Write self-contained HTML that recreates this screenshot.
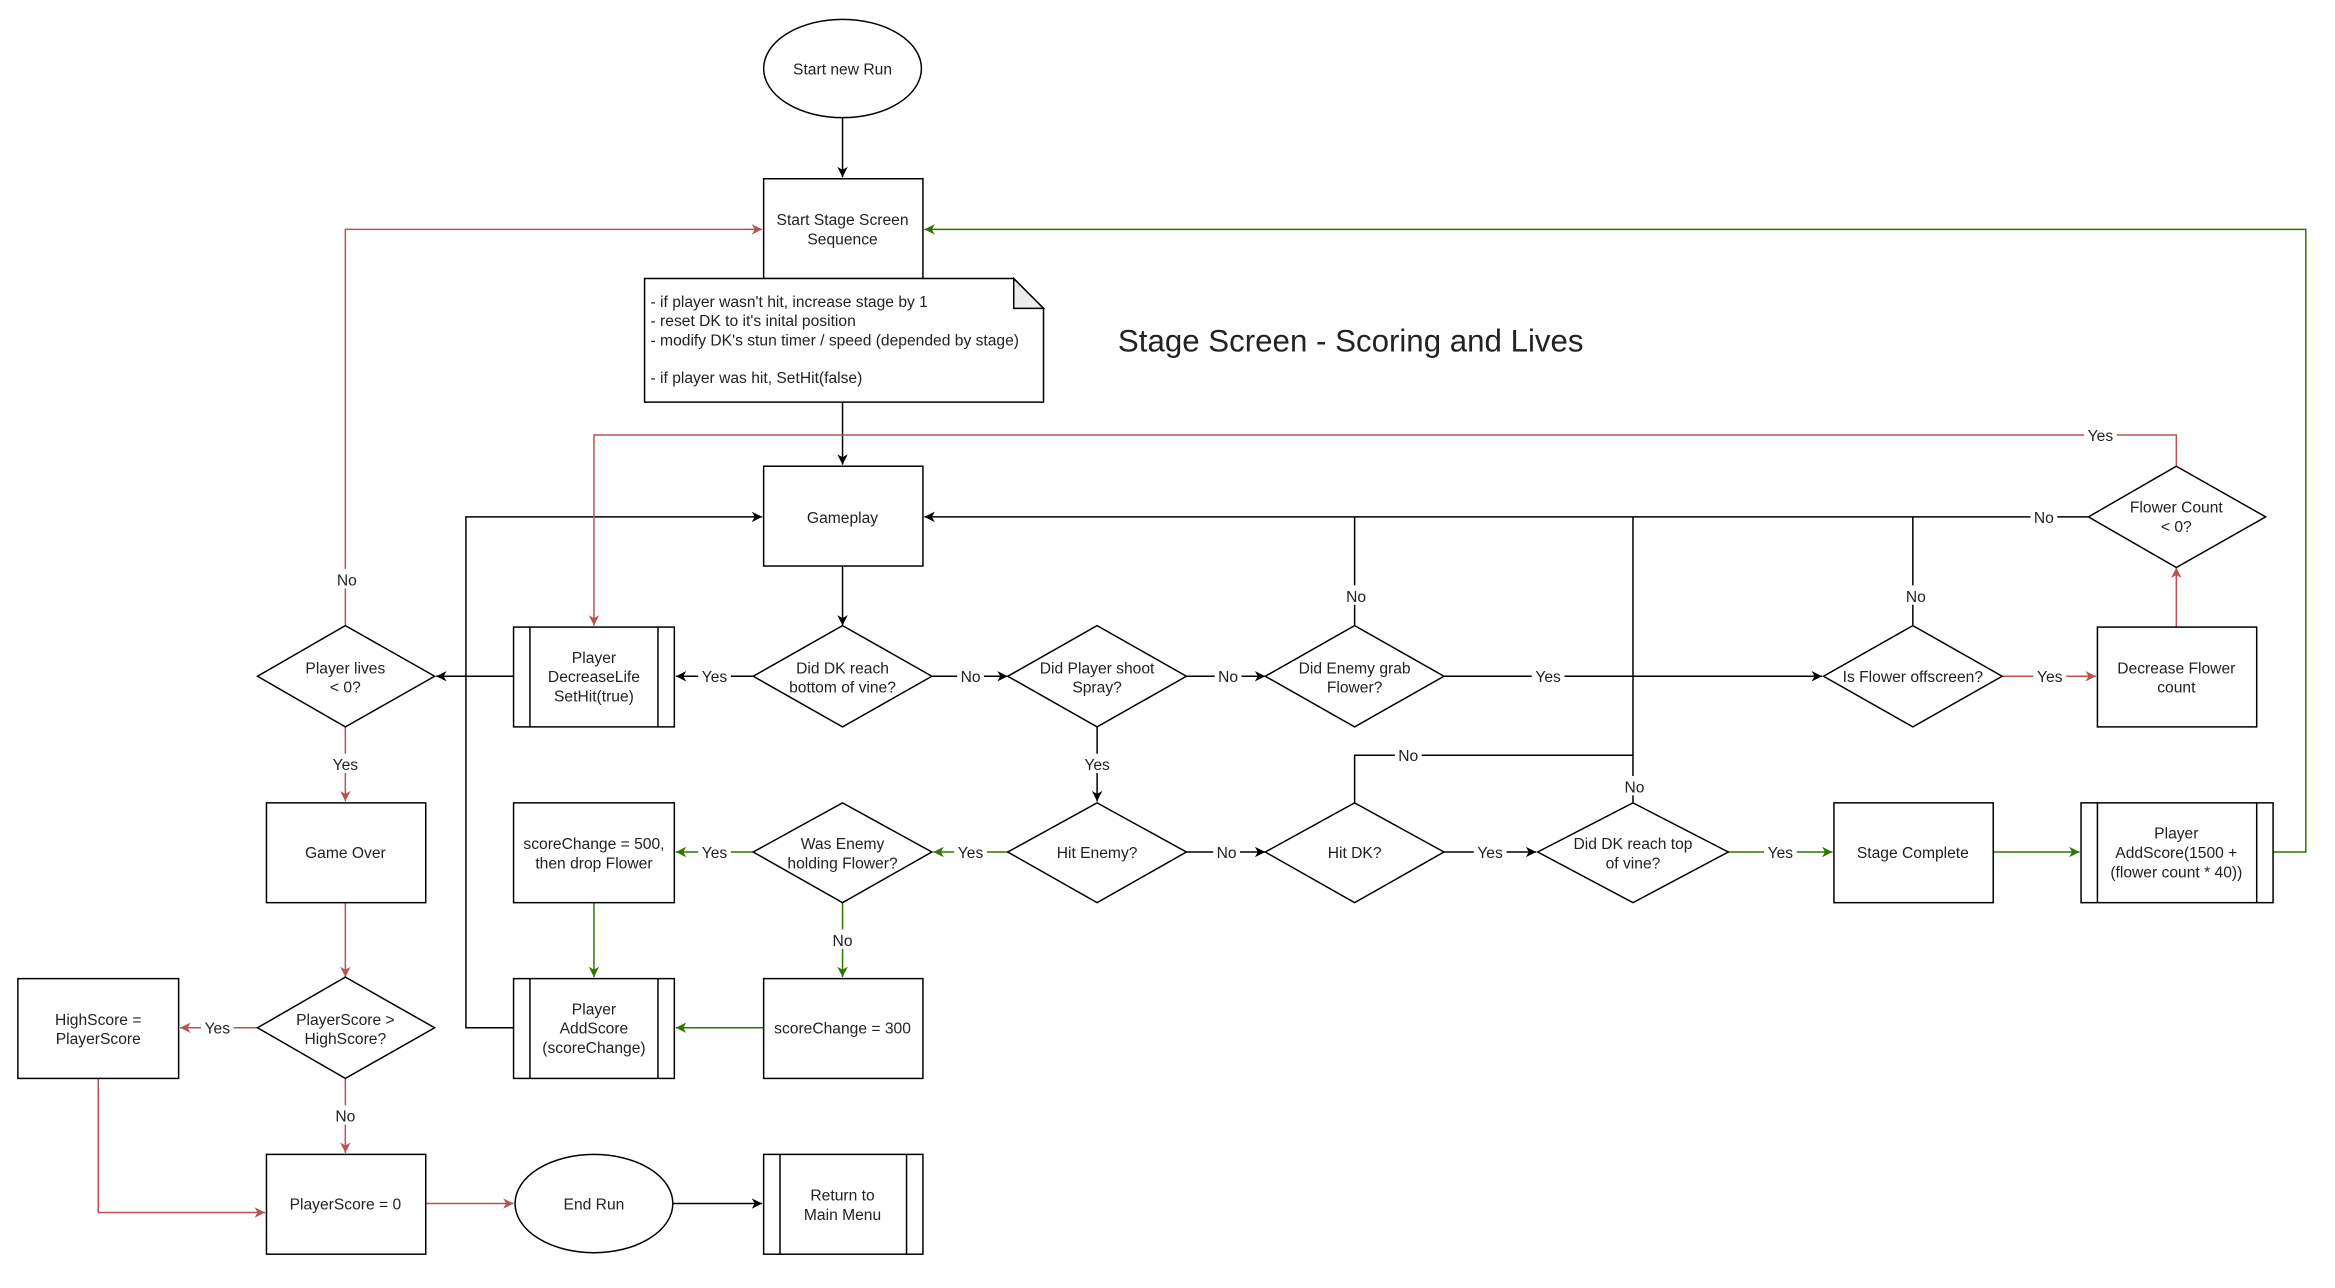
<!DOCTYPE html>
<html><head><meta charset="utf-8"><style>
html,body{margin:0;padding:0;background:#fff;}
svg{display:block;}
text{font-family:"Liberation Sans",sans-serif;font-size:10.5px;fill:#222;}
.b{fill:#fff;stroke:#000;stroke-width:1;}
.k{stroke:#000;fill:none;stroke-width:1;}
.r{stroke:#b85450;fill:none;stroke-width:1;}
.g{stroke:#2d7600;fill:none;stroke-width:1;}
.lb{fill:#fff;}
</style></head><body>
<svg width="2335" height="1288" viewBox="0 0 1568.6 864.7" preserveAspectRatio="none" xmlns="http://www.w3.org/2000/svg">
<defs>
<marker id="ak" markerWidth="8" markerHeight="8" refX="7" refY="4" orient="auto" markerUnits="userSpaceOnUse"><path d="M0,0.5 L7,4 L0,7.5 L2,4 z" fill="#000"/></marker>
<marker id="ar" markerWidth="8" markerHeight="8" refX="7" refY="4" orient="auto" markerUnits="userSpaceOnUse"><path d="M0,0.5 L7,4 L0,7.5 L2,4 z" fill="#b85450"/></marker>
<marker id="ag" markerWidth="8" markerHeight="8" refX="7" refY="4" orient="auto" markerUnits="userSpaceOnUse"><path d="M0,0.5 L7,4 L0,7.5 L2,4 z" fill="#2d7600"/></marker>
</defs>

<path class="k" d="M566,79 V119" marker-end="url(#ak)"/>
<path class="k" d="M566,270 V312" marker-end="url(#ak)"/>
<path class="k" d="M566,380 V420" marker-end="url(#ak)"/>
<path class="k" d="M506,454 H454" marker-end="url(#ak)"/>
<path class="k" d="M626,454 H677" marker-end="url(#ak)"/>
<path class="k" d="M797,454 H850" marker-end="url(#ak)"/>
<path class="k" d="M1403,347 H621" marker-end="url(#ak)"/>
<path class="k" d="M910,420 V347"/>
<path class="k" d="M1285,420 V347"/>
<path class="k" d="M345,454 H293" marker-end="url(#ak)"/>
<path class="k" d="M345,690 H313 V347 H512" marker-end="url(#ak)"/>
<path class="k" d="M737,488 V538" marker-end="url(#ak)"/>
<path class="k" d="M797,572 H850" marker-end="url(#ak)"/>
<path class="k" d="M910,539 V507 H1097"/>
<path class="k" d="M1097,539 V347"/>
<path class="k" d="M970,572 H1032" marker-end="url(#ak)"/>
<path class="k" d="M452,808 H512" marker-end="url(#ak)"/>
<path class="k" d="M970,454 H1224" marker-end="url(#ak)"/>

<path class="r" d="M1345,454 H1408" marker-end="url(#ar)"/>
<path class="r" d="M1462,421 V381" marker-end="url(#ar)"/>
<path class="r" d="M1462,313 V292 H399 V420" marker-end="url(#ar)"/>
<path class="r" d="M232,420 V154 H512" marker-end="url(#ar)"/>
<path class="r" d="M232,488 V538" marker-end="url(#ar)"/>
<path class="r" d="M232,606 V656" marker-end="url(#ar)"/>
<path class="r" d="M173,690 H121" marker-end="url(#ar)"/>
<path class="r" d="M232,724 V774" marker-end="url(#ar)"/>
<path class="r" d="M66,724 V814 H178" marker-end="url(#ar)"/>
<path class="r" d="M286,808 H345" marker-end="url(#ar)"/>

<path class="g" d="M677,572 H627" marker-end="url(#ag)"/>
<path class="g" d="M506,572 H454" marker-end="url(#ag)"/>
<path class="g" d="M566,606 V656" marker-end="url(#ag)"/>
<path class="g" d="M399,606 V656" marker-end="url(#ag)"/>
<path class="g" d="M513,690 H454" marker-end="url(#ag)"/>
<path class="g" d="M1161,572 H1231" marker-end="url(#ag)"/>
<path class="g" d="M1339,572 H1397" marker-end="url(#ag)"/>
<path class="g" d="M1527,572 H1549 V154 H621" marker-end="url(#ag)"/>

<g text-anchor="middle">
<rect class="lb" x="469" y="447" width="22" height="13"/><text x="480" y="458">Yes</text>
<rect class="lb" x="643" y="447" width="18" height="13"/><text x="652" y="458">No</text>
<rect class="lb" x="816" y="447" width="18" height="13"/><text x="825" y="458">No</text>
<rect class="lb" x="901" y="393" width="18" height="13"/><text x="911" y="404">No</text>
<rect class="lb" x="1029" y="447" width="22" height="13"/><text x="1040" y="458">Yes</text>
<rect class="lb" x="1278" y="393" width="18" height="13"/><text x="1287" y="404">No</text>
<rect class="lb" x="1366" y="447" width="22" height="13"/><text x="1377" y="458">Yes</text>
<rect class="lb" x="1364" y="340" width="18" height="13"/><text x="1373" y="351">No</text>
<rect class="lb" x="1400" y="285" width="22" height="13"/><text x="1411" y="296">Yes</text>
<rect class="lb" x="224" y="382" width="18" height="13"/><text x="233" y="393">No</text>
<rect class="lb" x="221" y="506" width="22" height="13"/><text x="232" y="517">Yes</text>
<rect class="lb" x="135" y="683" width="22" height="13"/><text x="146" y="694">Yes</text>
<rect class="lb" x="223" y="742" width="18" height="13"/><text x="232" y="753">No</text>
<rect class="lb" x="726" y="506" width="22" height="13"/><text x="737" y="517">Yes</text>
<rect class="lb" x="641" y="565" width="22" height="13"/><text x="652" y="576">Yes</text>
<rect class="lb" x="469" y="565" width="22" height="13"/><text x="480" y="576">Yes</text>
<rect class="lb" x="557" y="624" width="18" height="13"/><text x="566" y="635">No</text>
<rect class="lb" x="815" y="565" width="18" height="13"/><text x="824" y="576">No</text>
<rect class="lb" x="937" y="500" width="18" height="13"/><text x="946" y="511">No</text>
<rect class="lb" x="990" y="565" width="22" height="13"/><text x="1001" y="576">Yes</text>
<rect class="lb" x="1089" y="521" width="18" height="13"/><text x="1098" y="532">No</text>
<rect class="lb" x="1185" y="565" width="22" height="13"/><text x="1196" y="576">Yes</text>
</g>

<g text-anchor="middle">
<ellipse class="b" cx="566" cy="46" rx="53" ry="33"/><text x="566" y="50">Start new Run</text>
<rect class="b" x="513" y="120" width="107" height="67"/><text x="566" y="151">Start Stage Screen</text><text x="566" y="164">Sequence</text>
<rect class="b" x="513" y="313" width="107" height="67"/><text x="566" y="351">Gameplay</text>
<polygon class="b" points="566,420 626,454 566,488 506,454"/><text x="566" y="452">Did DK reach</text><text x="566" y="465">bottom of vine?</text>
<polygon class="b" points="737,420 797,454 737,488 677,454"/><text x="737" y="452">Did Player shoot</text><text x="737" y="465">Spray?</text>
<polygon class="b" points="910,420 970,454 910,488 850,454"/><text x="910" y="452">Did Enemy grab</text><text x="910" y="465">Flower?</text>
<polygon class="b" points="1285,420 1345,454 1285,488 1225,454"/><text x="1285" y="458">Is Flower offscreen?</text>
<rect class="b" x="1409" y="421" width="107" height="67"/><text x="1462" y="452">Decrease Flower</text><text x="1462" y="465">count</text>
<polygon class="b" points="1462,313 1522,347 1462,381 1403,347"/><text x="1462" y="344">Flower Count</text><text x="1462" y="357">&lt; 0?</text>
<rect class="b" x="345" y="421" width="108" height="67"/><path class="k" d="M356,421 V488 M442,421 V488"/><text x="399" y="445">Player</text><text x="399" y="458">DecreaseLife</text><text x="399" y="471">SetHit(true)</text>
<polygon class="b" points="232,420 292,454 232,488 173,454"/><text x="232" y="452">Player lives</text><text x="232" y="465">&lt; 0?</text>
<rect class="b" x="179" y="539" width="107" height="67"/><text x="232" y="576">Game Over</text>
<polygon class="b" points="232,656 292,690 232,724 173,690"/><text x="232" y="688">PlayerScore &gt;</text><text x="232" y="701">HighScore?</text>
<rect class="b" x="12" y="657" width="108" height="67"/><text x="66" y="688">HighScore =</text><text x="66" y="701">PlayerScore</text>
<rect class="b" x="179" y="775" width="107" height="67"/><text x="232" y="812">PlayerScore = 0</text>
<ellipse class="b" cx="399" cy="808" rx="53" ry="33"/><text x="399" y="812">End Run</text>
<rect class="b" x="513" y="775" width="107" height="67"/><path class="k" d="M524,775 V842 M609,775 V842"/><text x="566" y="806">Return to</text><text x="566" y="819">Main Menu</text>
<polygon class="b" points="737,539 797,572 737,606 677,572"/><text x="737" y="576">Hit Enemy?</text>
<polygon class="b" points="566,539 626,572 566,606 506,572"/><text x="566" y="570">Was Enemy</text><text x="566" y="583">holding Flower?</text>
<rect class="b" x="345" y="539" width="108" height="67"/><text x="399" y="570">scoreChange = 500,</text><text x="399" y="583">then drop Flower</text>
<rect class="b" x="345" y="657" width="108" height="67"/><path class="k" d="M356,657 V724 M442,657 V724"/><text x="399" y="681">Player</text><text x="399" y="694">AddScore</text><text x="399" y="707">(scoreChange)</text>
<rect class="b" x="513" y="657" width="107" height="67"/><text x="566" y="694">scoreChange = 300</text>
<polygon class="b" points="910,539 970,572 910,606 850,572"/><text x="910" y="576">Hit DK?</text>
<polygon class="b" points="1097,539 1161,572 1097,606 1033,572"/><text x="1097" y="570">Did DK reach top</text><text x="1097" y="583">of vine?</text>
<rect class="b" x="1232" y="539" width="107" height="67"/><text x="1285" y="576">Stage Complete</text>
<rect class="b" x="1398" y="539" width="129" height="67"/><path class="k" d="M1409,539 V606 M1516,539 V606"/><text x="1462" y="563">Player</text><text x="1462" y="576">AddScore(1500 +</text><text x="1462" y="589">(flower count * 40))</text>
</g>

<path class="b" d="M433,187 H681 L701,207 V270 H433 Z"/>
<path d="M681,187 V207 H701 Z" fill="#ececec" stroke="#000" stroke-width="1"/>
<text x="437" y="206">- if player wasn't hit, increase stage by 1</text>
<text x="437" y="219">- reset DK to it's inital position</text>
<text x="437" y="232">- modify DK's stun timer / speed (depended by stage)</text>
<text x="437" y="257">- if player was hit, SetHit(false)</text>

<text x="751" y="236" style="font-size:21px">Stage Screen - Scoring and Lives</text>
</svg>
</body></html>
